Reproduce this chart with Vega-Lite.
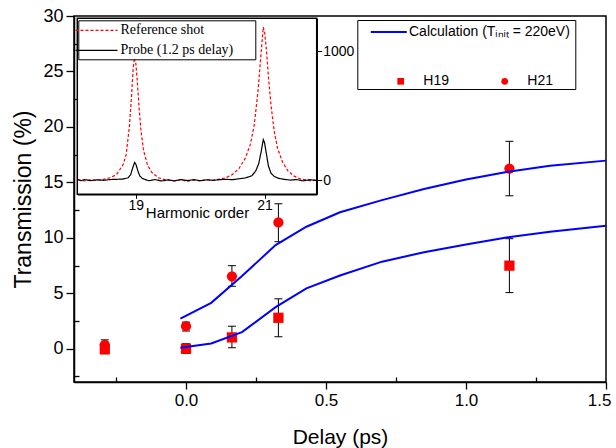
{
  "$schema": "https://vega.github.io/schema/vega-lite/v6.json",
  "width": 532,
  "height": 366,
  "autosize": {"type": "none"},
  "padding": {"left": 74, "top": 16, "right": 10, "bottom": 66},
  "background": "white",
  "config": {
    "font": "Liberation Sans",
    "view": {"stroke": "black", "strokeWidth": 1.5},
    "axis": {"grid": false, "domainColor": "black", "tickColor": "black", "labelColor": "black", "titleColor": "black", "titleFontWeight": "normal", "labelFont": "Liberation Sans", "titleFont": "Liberation Sans", "labelOverlap": false, "labelFlush": false}
  },
  "datasets": {
    "calc": [
      {"delay": -0.02, "calc": 2.72, "series": "H21"},
      {"delay": 0.09, "calc": 4.14, "series": "H21"},
      {"delay": 0.2, "calc": 6.55, "series": "H21"},
      {"delay": 0.32, "calc": 9.35, "series": "H21"},
      {"delay": 0.43, "calc": 11.0, "series": "H21"},
      {"delay": 0.55, "calc": 12.3, "series": "H21"},
      {"delay": 0.7, "calc": 13.4, "series": "H21"},
      {"delay": 0.85, "calc": 14.4, "series": "H21"},
      {"delay": 1.0, "calc": 15.25, "series": "H21"},
      {"delay": 1.15, "calc": 15.95, "series": "H21"},
      {"delay": 1.3, "calc": 16.5, "series": "H21"},
      {"delay": 1.5, "calc": 16.96, "series": "H21"},
      {"delay": -0.02, "calc": 0.09, "series": "H19"},
      {"delay": 0.09, "calc": 0.48, "series": "H19"},
      {"delay": 0.2, "calc": 1.5, "series": "H19"},
      {"delay": 0.32, "calc": 3.75, "series": "H19"},
      {"delay": 0.43, "calc": 5.45, "series": "H19"},
      {"delay": 0.55, "calc": 6.6, "series": "H19"},
      {"delay": 0.7, "calc": 7.85, "series": "H19"},
      {"delay": 0.85, "calc": 8.7, "series": "H19"},
      {"delay": 1.0, "calc": 9.4, "series": "H19"},
      {"delay": 1.15, "calc": 10.05, "series": "H19"},
      {"delay": 1.3, "calc": 10.55, "series": "H19"},
      {"delay": 1.5, "calc": 11.09, "series": "H19"}
    ],
    "pts": [
      {"delay": -0.29, "harmonic": "H19", "value": -0.05, "lo": -0.45, "hi": 0.4},
      {"delay": 0.0, "harmonic": "H19", "value": 0.0, "lo": -0.42, "hi": 0.45},
      {"delay": 0.164, "harmonic": "H19", "value": 1.02, "lo": 0.09, "hi": 2.03},
      {"delay": 0.33, "harmonic": "H19", "value": 2.79, "lo": 1.08, "hi": 4.5},
      {"delay": 1.155, "harmonic": "H19", "value": 7.49, "lo": 5.06, "hi": 9.92},
      {"delay": -0.29, "harmonic": "H21", "value": 0.35, "lo": -0.1, "hi": 0.8},
      {"delay": 0.0, "harmonic": "H21", "value": 2.03, "lo": 1.6, "hi": 2.4},
      {"delay": 0.164, "harmonic": "H21", "value": 6.53, "lo": 5.63, "hi": 7.49},
      {"delay": 0.33, "harmonic": "H21", "value": 11.39, "lo": 9.65, "hi": 13.07},
      {"delay": 1.155, "harmonic": "H21", "value": 16.24, "lo": 13.79, "hi": 18.7}
    ],
    "spec": [
      {"h": 18.1, "counts": 5, "series": "Reference shot"},
      {"h": 18.2, "counts": -5, "series": "Reference shot"},
      {"h": 18.3, "counts": 3, "series": "Reference shot"},
      {"h": 18.4, "counts": 0, "series": "Reference shot"},
      {"h": 18.5, "counts": 8, "series": "Reference shot"},
      {"h": 18.6, "counts": 20, "series": "Reference shot"},
      {"h": 18.7, "counts": 45, "series": "Reference shot"},
      {"h": 18.8, "counts": 120, "series": "Reference shot"},
      {"h": 18.85, "counts": 200, "series": "Reference shot"},
      {"h": 18.9, "counts": 420, "series": "Reference shot"},
      {"h": 18.93, "counts": 630, "series": "Reference shot"},
      {"h": 18.96, "counts": 880, "series": "Reference shot"},
      {"h": 18.98, "counts": 950, "series": "Reference shot"},
      {"h": 19.0, "counts": 900, "series": "Reference shot"},
      {"h": 19.02, "counts": 780, "series": "Reference shot"},
      {"h": 19.05, "counts": 560, "series": "Reference shot"},
      {"h": 19.08, "counts": 380, "series": "Reference shot"},
      {"h": 19.12, "counts": 230, "series": "Reference shot"},
      {"h": 19.18, "counts": 120, "series": "Reference shot"},
      {"h": 19.25, "counts": 60, "series": "Reference shot"},
      {"h": 19.35, "counts": 20, "series": "Reference shot"},
      {"h": 19.45, "counts": 5, "series": "Reference shot"},
      {"h": 19.6, "counts": -5, "series": "Reference shot"},
      {"h": 19.7, "counts": 5, "series": "Reference shot"},
      {"h": 19.8, "counts": -8, "series": "Reference shot"},
      {"h": 19.9, "counts": 3, "series": "Reference shot"},
      {"h": 20.0, "counts": -5, "series": "Reference shot"},
      {"h": 20.1, "counts": 5, "series": "Reference shot"},
      {"h": 20.2, "counts": 0, "series": "Reference shot"},
      {"h": 20.3, "counts": 10, "series": "Reference shot"},
      {"h": 20.4, "counts": 20, "series": "Reference shot"},
      {"h": 20.5, "counts": 45, "series": "Reference shot"},
      {"h": 20.6, "counts": 90, "series": "Reference shot"},
      {"h": 20.7, "counts": 170, "series": "Reference shot"},
      {"h": 20.78, "counts": 280, "series": "Reference shot"},
      {"h": 20.84, "counts": 430, "series": "Reference shot"},
      {"h": 20.9, "counts": 700, "series": "Reference shot"},
      {"h": 20.94, "counts": 950, "series": "Reference shot"},
      {"h": 20.98, "counts": 1185, "series": "Reference shot"},
      {"h": 21.0, "counts": 1150, "series": "Reference shot"},
      {"h": 21.03, "counts": 1000, "series": "Reference shot"},
      {"h": 21.06, "counts": 800, "series": "Reference shot"},
      {"h": 21.1, "counts": 580, "series": "Reference shot"},
      {"h": 21.15, "counts": 380, "series": "Reference shot"},
      {"h": 21.2, "counts": 250, "series": "Reference shot"},
      {"h": 21.28, "counts": 140, "series": "Reference shot"},
      {"h": 21.36, "counts": 75, "series": "Reference shot"},
      {"h": 21.45, "counts": 35, "series": "Reference shot"},
      {"h": 21.55, "counts": 12, "series": "Reference shot"},
      {"h": 21.65, "counts": 3, "series": "Reference shot"},
      {"h": 21.72, "counts": -5, "series": "Reference shot"},
      {"h": 21.8, "counts": 2, "series": "Reference shot"},
      {"h": 18.1, "counts": 5, "series": "Probe (1.2 ps delay)"},
      {"h": 18.15, "counts": -3, "series": "Probe (1.2 ps delay)"},
      {"h": 18.2, "counts": 6, "series": "Probe (1.2 ps delay)"},
      {"h": 18.3, "counts": -2, "series": "Probe (1.2 ps delay)"},
      {"h": 18.4, "counts": 4, "series": "Probe (1.2 ps delay)"},
      {"h": 18.5, "counts": 0, "series": "Probe (1.2 ps delay)"},
      {"h": 18.6, "counts": 6, "series": "Probe (1.2 ps delay)"},
      {"h": 18.7, "counts": 8, "series": "Probe (1.2 ps delay)"},
      {"h": 18.8, "counts": 10, "series": "Probe (1.2 ps delay)"},
      {"h": 18.88, "counts": 20, "series": "Probe (1.2 ps delay)"},
      {"h": 18.92, "counts": 45, "series": "Probe (1.2 ps delay)"},
      {"h": 18.95, "counts": 95, "series": "Probe (1.2 ps delay)"},
      {"h": 18.98, "counts": 138, "series": "Probe (1.2 ps delay)"},
      {"h": 19.0, "counts": 125, "series": "Probe (1.2 ps delay)"},
      {"h": 19.03, "counts": 75, "series": "Probe (1.2 ps delay)"},
      {"h": 19.06, "counts": 35, "series": "Probe (1.2 ps delay)"},
      {"h": 19.1, "counts": 15, "series": "Probe (1.2 ps delay)"},
      {"h": 19.15, "counts": 5, "series": "Probe (1.2 ps delay)"},
      {"h": 19.2, "counts": -3, "series": "Probe (1.2 ps delay)"},
      {"h": 19.3, "counts": 6, "series": "Probe (1.2 ps delay)"},
      {"h": 19.4, "counts": -5, "series": "Probe (1.2 ps delay)"},
      {"h": 19.5, "counts": 4, "series": "Probe (1.2 ps delay)"},
      {"h": 19.6, "counts": -4, "series": "Probe (1.2 ps delay)"},
      {"h": 19.7, "counts": 6, "series": "Probe (1.2 ps delay)"},
      {"h": 19.8, "counts": -2, "series": "Probe (1.2 ps delay)"},
      {"h": 19.9, "counts": 5, "series": "Probe (1.2 ps delay)"},
      {"h": 20.0, "counts": -3, "series": "Probe (1.2 ps delay)"},
      {"h": 20.1, "counts": 4, "series": "Probe (1.2 ps delay)"},
      {"h": 20.2, "counts": 0, "series": "Probe (1.2 ps delay)"},
      {"h": 20.3, "counts": 5, "series": "Probe (1.2 ps delay)"},
      {"h": 20.4, "counts": 8, "series": "Probe (1.2 ps delay)"},
      {"h": 20.5, "counts": 5, "series": "Probe (1.2 ps delay)"},
      {"h": 20.6, "counts": 12, "series": "Probe (1.2 ps delay)"},
      {"h": 20.7, "counts": 18, "series": "Probe (1.2 ps delay)"},
      {"h": 20.8, "counts": 35, "series": "Probe (1.2 ps delay)"},
      {"h": 20.86, "counts": 70, "series": "Probe (1.2 ps delay)"},
      {"h": 20.91, "counts": 130, "series": "Probe (1.2 ps delay)"},
      {"h": 20.95, "counts": 230, "series": "Probe (1.2 ps delay)"},
      {"h": 20.98, "counts": 315, "series": "Probe (1.2 ps delay)"},
      {"h": 21.0, "counts": 290, "series": "Probe (1.2 ps delay)"},
      {"h": 21.03, "counts": 200, "series": "Probe (1.2 ps delay)"},
      {"h": 21.06, "counts": 110, "series": "Probe (1.2 ps delay)"},
      {"h": 21.1, "counts": 55, "series": "Probe (1.2 ps delay)"},
      {"h": 21.15, "counts": 30, "series": "Probe (1.2 ps delay)"},
      {"h": 21.22, "counts": 15, "series": "Probe (1.2 ps delay)"},
      {"h": 21.3, "counts": 8, "series": "Probe (1.2 ps delay)"},
      {"h": 21.4, "counts": 2, "series": "Probe (1.2 ps delay)"},
      {"h": 21.5, "counts": 6, "series": "Probe (1.2 ps delay)"},
      {"h": 21.6, "counts": -4, "series": "Probe (1.2 ps delay)"},
      {"h": 21.7, "counts": 5, "series": "Probe (1.2 ps delay)"},
      {"h": 21.8, "counts": 0, "series": "Probe (1.2 ps delay)"}
    ]
  },
  "layer": [
    {
      "data": {"name": "pts"},
      "mark": {"type": "rule", "color": "black", "strokeWidth": 1},
      "encoding": {
        "x": {"field": "delay", "type": "quantitative", "scale": {"domain": [-0.4, 1.5], "nice": false, "zero": false}, "axis": null},
        "y": {"field": "lo", "type": "quantitative", "scale": {"domain": [-3, 30], "nice": false, "zero": false}, "axis": null},
        "y2": {"field": "hi"}
      }
    },
    {
      "data": {"name": "pts"},
      "mark": {"type": "tick", "orient": "horizontal", "size": 8, "thickness": 1, "color": "black", "opacity": 1},
      "encoding": {
        "x": {"field": "delay", "type": "quantitative", "scale": {"domain": [-0.4, 1.5], "nice": false, "zero": false}, "axis": null},
        "y": {"field": "lo", "type": "quantitative", "scale": {"domain": [-3, 30], "nice": false, "zero": false}, "axis": null}
      }
    },
    {
      "data": {"name": "pts"},
      "mark": {"type": "tick", "orient": "horizontal", "size": 8, "thickness": 1, "color": "black", "opacity": 1},
      "encoding": {
        "x": {"field": "delay", "type": "quantitative", "scale": {"domain": [-0.4, 1.5], "nice": false, "zero": false}, "axis": null},
        "y": {"field": "hi", "type": "quantitative", "scale": {"domain": [-3, 30], "nice": false, "zero": false}, "axis": null}
      }
    },
    {
      "data": {"name": "pts"},
      "mark": {"type": "point", "filled": true, "color": "#ff0000", "opacity": 1, "size": 105},
      "encoding": {
        "x": {"field": "delay", "type": "quantitative", "scale": {"domain": [-0.4, 1.5], "nice": false, "zero": false}, "axis": null},
        "y": {"field": "value", "type": "quantitative", "scale": {"domain": [-3, 30], "nice": false, "zero": false}, "axis": null},
        "shape": {
          "field": "harmonic", "type": "nominal",
          "scale": {"domain": ["H19", "H21"], "range": ["square", "circle"]},
          "legend": {
            "orient": "none", "legendX": 319.7, "legendY": 58.3, "direction": "horizontal", "title": null,
            "padding": 0,
            "labelFont": "Liberation Sans", "labelFontSize": 14, "labelColor": "black",
            "symbolSize": 45, "symbolFillColor": "#ff0000", "symbolStrokeColor": "#ff0000", "symbolStrokeWidth": 0, "symbolOpacity": 1,
            "symbolOffset": 0, "labelOffset": 15.6, "columnPadding": 48
          }
        }
      }
    },
    {
      "data": {"name": "calc"},
      "mark": {"type": "line", "strokeWidth": 2},
      "encoding": {
        "x": {
          "field": "delay", "type": "quantitative",
          "scale": {"domain": [-0.4, 1.5], "nice": false, "zero": false},
          "axis": {
            "orient": "bottom", "title": "Delay (ps)", "values": [0, 0.5, 1, 1.5], "format": ".1f",
            "tickSize": 7, "labelPadding": 3, "labelFontSize": 17, "titleFontSize": 21, "titleY": 44, "titleBaseline": "top",
            "labelFlush": true, "labelFlushOffset": 5,
            "domainWidth": 1.5, "tickWidth": 1.3
          }
        },
        "y": {
          "field": "calc", "type": "quantitative",
          "scale": {"domain": [-3, 30], "nice": false, "zero": false},
          "axis": {
            "orient": "left", "title": "Transmission (%)", "values": [0, 5, 10, 15, 20, 25, 30], "format": "d",
            "tickSize": 8, "labelPadding": 3, "labelFontSize": 18, "titleFontSize": 23, "titleX": -51, "titleBaseline": "middle",
            "domainWidth": 1.5, "tickWidth": 1.3
          }
        },
        "detail": {"field": "series"},
        "color": {
          "datum": "Calculation",
          "scale": {"domain": ["Calculation", "blank"], "range": ["#0000ff", "rgba(0,0,0,0)"]},
          "legend": {
            "orient": "none", "legendX": 283.3, "legendY": 4, "title": null, "values": ["Calculation", "blank"],
            "labelExpr": "datum.value == 'Calculation' ? 'Calculation (Tᵢₙᵢₜ = 220eV)' : ''",
            "labelFont": "Liberation Sans", "labelFontSize": 14, "labelColor": "black", "labelLimit": 400,
            "strokeColor": "black", "padding": 5, "rowPadding": 31,
            "symbolType": "M-3,0H3", "symbolSize": 144, "symbolStrokeWidth": 2, "symbolOffset": 19.5, "labelOffset": 13.2
          }
        }
      }
    },
    {
      "mark": {"type": "rule", "color": "black", "strokeWidth": 1.5},
      "encoding": {"y": {"datum": 0, "type": "quantitative", "scale": {"domain": [-3, 30], "nice": false, "zero": false}, "axis": null}}
    },
    {
      "data": {"values": [{}]},
      "mark": {"type": "rect", "fill": "white", "stroke": "black", "strokeWidth": 1.5},
      "encoding": {
        "x": {"datum": 18.09, "type": "quantitative", "scale": {"domain": [18.09, 21.81], "range": [3.3, 242.7], "nice": false, "zero": false}, "axis": null},
        "x2": {"datum": 21.81},
        "y": {"datum": -108, "type": "quantitative", "scale": {"domain": [-108, 1253], "range": [178.3, 2.3], "nice": false, "zero": false}, "axis": null},
        "y2": {"datum": 1253}
      }
    },
    {
      "data": {"name": "spec"},
      "mark": {"type": "line", "strokeWidth": 1.2},
      "encoding": {
        "x": {
          "field": "h", "type": "quantitative",
          "scale": {"domain": [18.09, 21.81], "range": [3.3, 242.7], "nice": false, "zero": false},
          "axis": {
            "orient": "bottom", "offset": -187.7, "values": [19, 21], "format": "d",
            "title": "Harmonic order", "titleFontSize": 15, "titleY": 11.6, "titleBaseline": "top",
            "labelFontSize": 14, "tickSize": 4, "labelPadding": 0, "domain": true, "domainWidth": 1.5
          }
        },
        "y": {
          "field": "counts", "type": "quantitative",
          "scale": {"domain": [-108, 1253], "range": [178.3, 2.3], "nice": false, "zero": false},
          "axis": {
            "orient": "right", "offset": -289.3, "values": [0, 500, 1000], "title": null,
            "labelExpr": "datum.value == 500 ? '' : format(datum.value, 'd')",
            "tickSize": {"condition": {"test": "datum.value == 500", "value": -4}, "value": 5},
            "labelPadding": 1, "labelFontSize": 14, "domain": true, "domainWidth": 1.5
          }
        },
        "color": {
          "field": "series", "type": "nominal",
          "scale": {"domain": ["Reference shot", "Probe (1.2 ps delay)"], "range": ["#ff0000", "#000000"]},
          "legend": {
            "orient": "none", "legendX": 4.3, "legendY": 4.3, "title": null,
            "strokeColor": "black", "padding": 2, "fillColor": "white",
            "labelFont": "Liberation Serif", "labelFontSize": 14, "labelColor": "black",
            "labelExpr": "datum.label + '⠀⠀'",
            "symbolType": "M-3,0H3", "symbolSize": 196, "symbolStrokeWidth": 1.2,
            "symbolOffset": 8.2, "labelOffset": 16, "rowPadding": 5
          }
        },
        "strokeDash": {
          "field": "series", "type": "nominal",
          "scale": {"domain": ["Reference shot", "Probe (1.2 ps delay)"], "range": [[3, 2], [1, 0]]},
          "legend": {
            "orient": "none", "legendX": 4.3, "legendY": 4.3, "title": null,
            "strokeColor": "black", "padding": 2, "fillColor": "white",
            "labelFont": "Liberation Serif", "labelFontSize": 14, "labelColor": "black",
            "labelExpr": "datum.label + '⠀⠀'",
            "symbolType": "M-3,0H3", "symbolSize": 196, "symbolStrokeWidth": 1.2,
            "symbolOffset": 8.2, "labelOffset": 16, "rowPadding": 5
          }
        }
      }
    },
    {
      "data": {"values": [{}]},
      "mark": {"type": "point", "opacity": 0},
      "encoding": {
        "x": {
          "datum": 0, "type": "quantitative",
          "scale": {"domain": [-0.4, 1.5], "nice": false, "zero": false},
          "axis": {"orient": "bottom", "values": [-0.25, 0.25, 0.75, 1.25], "labels": false, "domain": false, "title": null, "tickSize": -5, "tickWidth": 1.3}
        },
        "y": {
          "datum": 0, "type": "quantitative",
          "scale": {"domain": [-3, 30], "nice": false, "zero": false},
          "axis": {"orient": "left", "values": [-2.5, 2.5, 7.5, 12.5, 17.5, 22.5, 27.5], "labels": false, "domain": false, "title": null, "tickSize": -5, "tickWidth": 1.3}
        }
      }
    }
  ],
  "resolve": {
    "scale": {"x": "independent", "y": "independent", "color": "independent", "strokeDash": "independent", "shape": "independent"},
    "axis": {"x": "independent", "y": "independent"},
    "legend": {"color": "independent", "strokeDash": "independent", "shape": "independent"}
  }
}
